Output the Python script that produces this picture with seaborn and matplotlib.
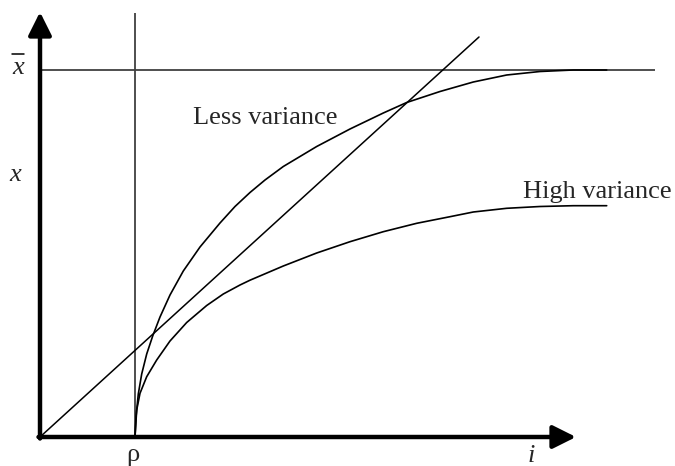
import matplotlib
matplotlib.use("Agg")
import matplotlib.pyplot as plt
import seaborn as sns
import pandas as pd

sns.set_style("white")
plt.rcParams["font.family"] = ["Liberation Serif", "DejaVu Serif"]

# interest rate i (horizontal) vs. x (vertical)
rho = 95            # threshold on the i axis
x_bar = 367         # upper bound of x

less_i = [95, 96, 98.3, 101.7, 106.7, 112.7, 120, 130, 143.3, 160, 180, 195,
          210, 225, 243.3, 276.7, 310, 343.3, 366.7, 400, 433.3, 466.7, 500,
          533.3, 566.7]
less_x = [0, 20, 43, 63, 83, 101, 120, 142, 166, 190, 214, 230.5,
          244.5, 257, 270.5, 290.5, 308, 324, 334.5, 345.5, 355, 362, 365.5,
          367, 367]

high_i = [95, 96.7, 100, 106.7, 116.7, 130, 146.7, 166.7, 183.3, 200, 210,
          243.3, 276.7, 310, 343.3, 376.7, 410, 433.3, 466.7, 500, 533.3, 566.7]
high_x = [0, 27, 43.7, 60.3, 77, 96, 114.5, 131.5, 143, 152, 156.8, 171, 184,
          195.3, 205.3, 213.7, 220.3, 225, 228.7, 230.5, 231.3, 231.3]

diag_i = [0, 439]
diag_x = [0, 400]

curves = pd.concat([
    pd.DataFrame({"i": less_i, "x": less_x, "curve": "Less variance"}),
    pd.DataFrame({"i": high_i, "x": high_x, "curve": "High variance"}),
])

fig = plt.figure(figsize=(6.75, 4.66), dpi=100)
ax = fig.add_axes([0, 0, 1, 1])
ax.set_xlim(-40, 635)
ax.set_ylim(-29, 437)
ax.axis("off")

# reference lines
ax.plot([0, 615], [x_bar, x_bar], color="#404040", lw=1.3, solid_capstyle="butt")
ax.plot([rho, rho], [0, 424], color="#404040", lw=1.3, solid_capstyle="butt")
sns.lineplot(x=diag_i, y=diag_x, ax=ax, color="black", lw=1.1)

sns.lineplot(data=curves, x="i", y="x", units="curve", estimator=None, sort=False,
             ax=ax, color="black", lw=1.2, legend=False)

# axes with arrow heads
arrow = dict(arrowstyle="-|>,head_length=1.0,head_width=0.5", lw=3.2,
             color="black", mutation_scale=14, shrinkA=0, shrinkB=0)
ax.annotate("", xy=(0, 425), xytext=(0, -1.5), arrowprops=arrow)
ax.annotate("", xy=(536, 0), xytext=(-1.5, 0), arrowprops=arrow)

fs = 19
ax.text(153, 313, "Less variance", fontsize=fs, ha="left", va="baseline")
ax.text(483, 239, "High variance", fontsize=fs, ha="left", va="baseline")
ax.text(-22, 369, "x", fontsize=fs, fontstyle="italic", ha="center", va="center")
ax.plot([-28, -16], [383, 383], color="black", lw=1.1)
ax.text(-25, 262, "x", fontsize=fs, fontstyle="italic", ha="center", va="center")
ax.text(rho - 2, -18, "ρ", fontsize=fs, ha="center", va="center")
ax.text(491, -19, "i", fontsize=fs, fontstyle="italic", ha="center", va="center")

fig.savefig("out.png", dpi=100)
